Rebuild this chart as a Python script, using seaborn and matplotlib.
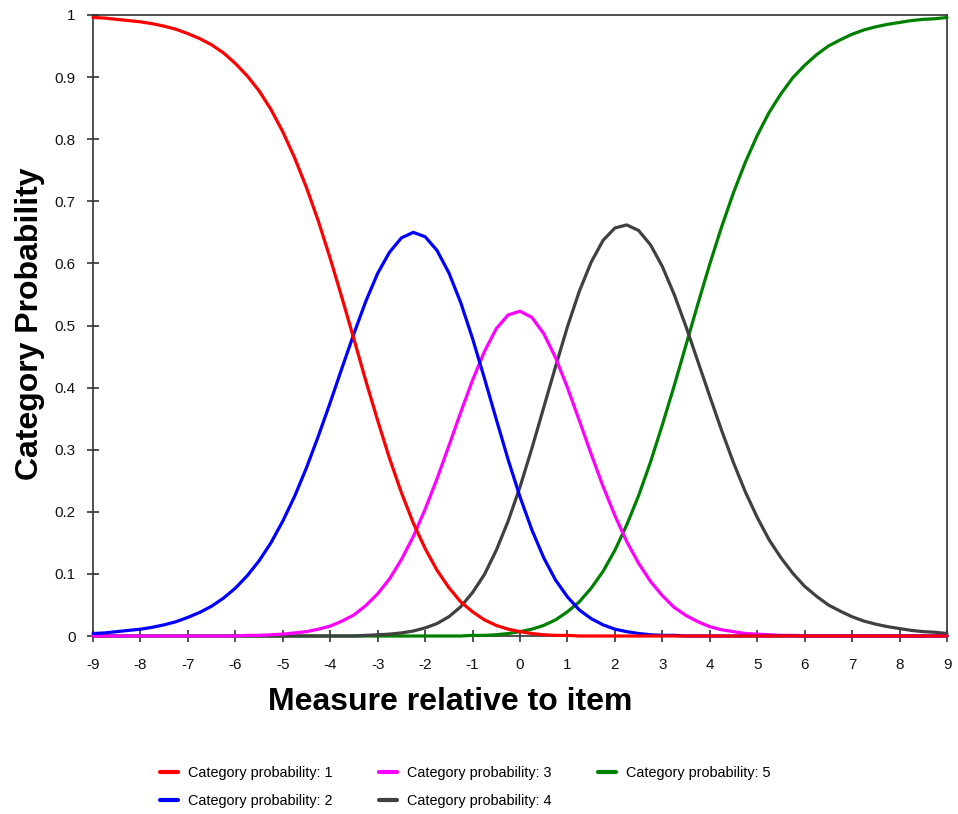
import matplotlib
matplotlib.use("Agg")
import matplotlib.pyplot as plt
import seaborn as sns
import pandas as pd
from matplotlib.lines import Line2D

sns.set_style("white")
plt.rcParams['font.family'] = ['Liberation Sans', 'DejaVu Sans']
plt.rcParams['text.color'] = 'black'
plt.rcParams['axes.labelcolor'] = 'black'

measure = [-9, -8.75, -8.5, -8.25, -8, -7.75, -7.5, -7.25, -7, -6.75, -6.5, -6.25,
           -6, -5.75, -5.5, -5.25, -5, -4.75, -4.5, -4.25, -4, -3.75, -3.5, -3.25,
           -3, -2.75, -2.5, -2.25, -2, -1.75, -1.5, -1.25, -1, -0.75, -0.5, -0.25,
           0, 0.25, 0.5, 0.75, 1, 1.25, 1.5, 1.75, 2, 2.25, 2.5, 2.75,
           3, 3.25, 3.5, 3.75, 4, 4.25, 4.5, 4.75, 5, 5.25, 5.5, 5.75,
           6, 6.25, 6.5, 6.75, 7, 7.25, 7.5, 7.75, 8, 8.25, 8.5, 8.75, 9]

cat1 = [0.996, 0.995, 0.993, 0.991, 0.989, 0.986, 0.982, 0.977, 0.970, 0.962, 0.952, 0.939,
        0.922, 0.902, 0.878, 0.848, 0.812, 0.770, 0.722, 0.668, 0.608, 0.544, 0.478, 0.411,
        0.347, 0.286, 0.231, 0.182, 0.141, 0.106, 0.078, 0.055, 0.039, 0.026, 0.017, 0.011,
        0.007, 0.004, 0.002, 0.001, 0.001, 0, 0, 0, 0, 0, 0, 0,
        0, 0, 0, 0, 0, 0, 0, 0, 0, 0, 0, 0,
        0, 0, 0, 0, 0, 0, 0, 0, 0, 0, 0, 0, 0]
cat2 = [0.004, 0.005, 0.007, 0.009, 0.011, 0.014, 0.018, 0.023, 0.030, 0.038, 0.048, 0.061,
        0.077, 0.097, 0.121, 0.150, 0.185, 0.225, 0.271, 0.322, 0.376, 0.432, 0.487, 0.539,
        0.584, 0.618, 0.641, 0.650, 0.643, 0.621, 0.585, 0.537, 0.479, 0.415, 0.349, 0.284,
        0.224, 0.171, 0.126, 0.090, 0.063, 0.042, 0.028, 0.018, 0.011, 0.007, 0.004, 0.002,
        0.001, 0.001, 0, 0, 0, 0, 0, 0, 0, 0, 0, 0,
        0, 0, 0, 0, 0, 0, 0, 0, 0, 0, 0, 0, 0]
cat3 = [0, 0, 0, 0, 0, 0, 0, 0, 0, 0, 0, 0,
        0, 0.001, 0.001, 0.002, 0.003, 0.005, 0.007, 0.011, 0.016, 0.024, 0.034, 0.049,
        0.068, 0.092, 0.123, 0.160, 0.204, 0.253, 0.306, 0.360, 0.412, 0.458, 0.495, 0.517,
        0.523, 0.513, 0.487, 0.448, 0.400, 0.347, 0.293, 0.241, 0.194, 0.152, 0.117, 0.088,
        0.065, 0.046, 0.033, 0.023, 0.015, 0.010, 0.007, 0.004, 0.003, 0.002, 0.001, 0.001,
        0, 0, 0, 0, 0, 0, 0, 0, 0, 0, 0, 0, 0]
cat4 = [0, 0, 0, 0, 0, 0, 0, 0, 0, 0, 0, 0,
        0, 0, 0, 0, 0, 0, 0, 0, 0, 0, 0, 0.001,
        0.002, 0.003, 0.005, 0.008, 0.013, 0.020, 0.031, 0.047, 0.070, 0.099, 0.138, 0.185,
        0.240, 0.302, 0.368, 0.434, 0.498, 0.555, 0.602, 0.637, 0.657, 0.662, 0.653, 0.630,
        0.595, 0.550, 0.498, 0.442, 0.386, 0.331, 0.279, 0.232, 0.191, 0.155, 0.126, 0.101,
        0.080, 0.064, 0.050, 0.040, 0.031, 0.024, 0.019, 0.015, 0.012, 0.009, 0.007, 0.006, 0.004]
cat5 = [0, 0, 0, 0, 0, 0, 0, 0, 0, 0, 0, 0,
        0, 0, 0, 0, 0, 0, 0, 0, 0, 0, 0, 0,
        0, 0, 0, 0, 0, 0, 0, 0, 0.001, 0.001, 0.002, 0.004,
        0.007, 0.011, 0.017, 0.026, 0.039, 0.055, 0.077, 0.104, 0.138, 0.179, 0.226, 0.280,
        0.340, 0.403, 0.469, 0.535, 0.599, 0.659, 0.714, 0.763, 0.806, 0.843, 0.873, 0.899,
        0.919, 0.936, 0.950, 0.960, 0.969, 0.976, 0.981, 0.985, 0.988, 0.991, 0.993, 0.994, 0.996]

labels = ["Category probability: 1", "Category probability: 2", "Category probability: 3",
          "Category probability: 4", "Category probability: 5"]
colors = ["#ff0000", "#0000ff", "#ff00ff", "#404040", "#008000"]
series = [cat1, cat2, cat3, cat4, cat5]
for s_ in series:
    assert len(s_) == len(measure), len(s_)

x_ticks = list(range(-9, 10))
y_ticks = [0, 0.1, 0.2, 0.3, 0.4, 0.5, 0.6, 0.7, 0.8, 0.9, 1]
y_tick_labels = ["0", "0.1", "0.2", "0.3", "0.4", "0.5", "0.6", "0.7", "0.8", "0.9", "1"]

fig = plt.figure(figsize=(9.58, 8.14), dpi=100)
ax = fig.add_axes([93/958, 1 - 636/814, (947 - 93)/958, (636 - 15)/814])

# draw in reverse so category 1 is on top
for i in reversed(range(5)):
    df = pd.DataFrame({"x": measure, "y": series[i]})
    sns.lineplot(data=df, x="x", y="y", ax=ax, color=colors[i], linewidth=2.3,
                 zorder=10 + (5 - i), clip_on=False, estimator=None, sort=False)

ax.set_xlim(-9, 9)
ax.set_ylim(0, 1)
ax.set_xticks(x_ticks)
ax.set_xticklabels([str(t) for t in x_ticks])
ax.set_yticks(y_ticks)
ax.set_yticklabels(y_tick_labels)
ax.tick_params(axis='both', which='major', bottom=True, left=True, top=False, right=False,
               direction='inout', length=8, width=1.2, colors='#333333',
               labelcolor='#111111', labelsize=11)
ax.tick_params(axis='x', pad=11.5)
ax.tick_params(axis='y', pad=8.5)
for s in ax.spines.values():
    s.set_color('#333333')
    s.set_linewidth(1.2)
    s.set_visible(True)

ax.set_xlabel("Measure relative to item", fontsize=23, fontweight='bold', color='black')
ax.set_ylabel("Category Probability", fontsize=23, fontweight='bold', color='black')
ax.xaxis.label.set_va('center')
ax.yaxis.label.set_va('center')
ax.xaxis.set_label_coords((450 - 93) / 854, (636 - 702) / 621)
ax.yaxis.set_label_coords((30 - 93) / 854, (636 - 324) / 621)

handles = [Line2D([0], [0], color=c, linewidth=3) for c in colors]
fig.legend(handles, labels, loc='center', bbox_to_anchor=(0.486, 1 - 787 / 814), ncol=3,
           frameon=False, fontsize=10.4, handlelength=1.2, handletextpad=0.75,
           columnspacing=3.2, labelspacing=0.95, labelcolor='black')

fig.savefig("out.png", dpi=100)
